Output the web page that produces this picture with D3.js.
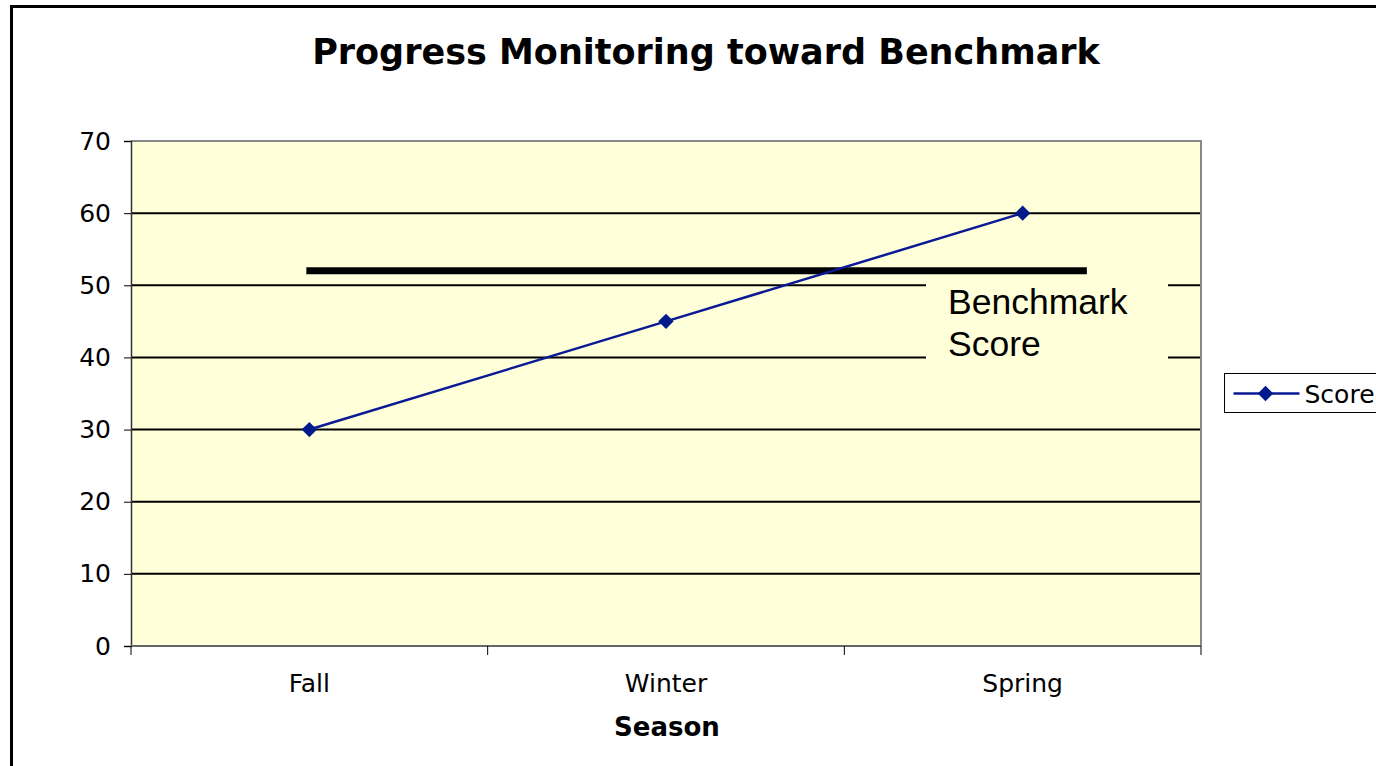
<!DOCTYPE html>
<html>
<head>
<meta charset="utf-8">
<script src="https://cdn.jsdelivr.net/npm/d3@7"></script>
<style>
  body { margin: 0; background: #fff; }
  svg { display: block; }
</style>
</head>
<body>
<script>
var seasons = ["Fall", "Winter", "Spring"];
var scores = [30, 45, 60];
var yTicks = [0, 10, 20, 30, 40, 50, 60, 70];
var benchmark = 52;
var benchmarkSpan = [0, 2.18]; // in category index units
var seriesName = "Score";

var width = 1376;
var height = 766;
var plot = { left: 131, top: 141, right: 1201, bottom: 646 };
var fontV = "DejaVu Sans, Verdana, sans-serif";

var svg = d3.select("body").append("svg").attr("width", width).attr("height", height);

// outer frame
svg.append("rect")
  .attr("x", 11.5).attr("y", 6.5)
  .attr("width", width + 20).attr("height", height + 20)
  .attr("fill", "#fff").attr("stroke", "#000").attr("stroke-width", 3);

var xScale = d3.scaleBand()
  .domain(seasons)
  .range([plot.left, plot.right]);

var xIdx = d3.scaleLinear()
  .domain([-0.5, seasons.length - 0.5])
  .range([plot.left, plot.right]);

var yScale = d3.scaleLinear()
  .domain([0, 70])
  .range([plot.bottom, plot.top]);

// plot background
svg.append("rect")
  .attr("x", plot.left).attr("y", plot.top)
  .attr("width", plot.right - plot.left).attr("height", plot.bottom - plot.top)
  .attr("fill", "#ffffd9");

// gridlines
svg.append("g")
  .selectAll("line")
  .data(yTicks.filter(function(d) { return d > 0 && d < 70; }))
  .enter()
  .append("line")
  .attr("x1", plot.left).attr("x2", plot.right)
  .attr("y1", function(d) { return yScale(d); })
  .attr("y2", function(d) { return yScale(d); })
  .attr("stroke", "#000").attr("stroke-width", 2);

// plot border (top/right gray)
svg.append("path")
  .attr("d", "M" + plot.left + "," + plot.top + "H" + plot.right + "V" + plot.bottom)
  .attr("fill", "none").attr("stroke", "#888").attr("stroke-width", 2);

// benchmark label box (hides gridlines behind it)
var boxX = 926, boxW = 242;
svg.append("rect")
  .attr("x", boxX).attr("y", yScale(50) - 6)
  .attr("width", boxW).attr("height", yScale(40) - yScale(50) + 12)
  .attr("fill", "#ffffd9");

var label = svg.append("text")
  .attr("font-family", "Liberation Sans, Arial, sans-serif")
  .attr("font-size", 35.5)
  .attr("fill", "#000");
label.append("tspan").attr("x", 948).attr("y", 314).text("Benchmark");
label.append("tspan").attr("x", 948).attr("y", 356).text("Score");

// benchmark line
svg.append("line")
  .attr("x1", xIdx(benchmarkSpan[0]) - 3)
  .attr("x2", xIdx(benchmarkSpan[1]))
  .attr("y1", yScale(benchmark)).attr("y2", yScale(benchmark))
  .attr("stroke", "#000").attr("stroke-width", 7);

// axes
var axisY = d3.axisLeft(yScale).tickValues(yTicks).tickSize(7).tickPadding(13);
var gy = svg.append("g")
  .attr("transform", "translate(" + plot.left + ",0)")
  .call(axisY);
gy.select(".domain").attr("stroke", "#333").attr("stroke-width", 1.5);
gy.selectAll("text")
  .attr("font-family", fontV)
  .attr("font-size", 25).attr("fill", "#000");

var gx = svg.append("g")
  .attr("transform", "translate(0," + plot.bottom + ")");
gx.append("line")
  .attr("x1", plot.left).attr("x2", plot.right)
  .attr("stroke", "#666").attr("stroke-width", 2);
gx.selectAll(".tick")
  .data(d3.range(seasons.length + 1))
  .enter()
  .append("line")
  .attr("x1", function(d) { return xIdx(d - 0.5); })
  .attr("x2", function(d) { return xIdx(d - 0.5); })
  .attr("y1", 0).attr("y2", 9)
  .attr("stroke", "#000").attr("stroke-width", 1);
gx.selectAll("text")
  .data(seasons)
  .enter()
  .append("text")
  .attr("x", function(d) { return xScale(d) + xScale.bandwidth() / 2; })
  .attr("y", 46)
  .attr("text-anchor", "middle")
  .attr("font-family", fontV)
  .attr("font-size", 25)
  .text(function(d) { return d; });

// series line
var line = d3.line()
  .x(function(d, i) { return xScale(seasons[i]) + xScale.bandwidth() / 2; })
  .y(function(d) { return yScale(d); });

svg.append("path")
  .datum(scores)
  .attr("d", line)
  .attr("fill", "none")
  .attr("stroke", "#0a1a96")
  .attr("stroke-width", 2.5);

var diamond = d3.symbol().type(d3.symbolDiamond2).size(150);
svg.append("g")
  .selectAll("path")
  .data(scores)
  .enter()
  .append("path")
  .attr("d", diamond)
  .attr("transform", function(d, i) {
    return "translate(" + (xScale(seasons[i]) + xScale.bandwidth() / 2) + "," + yScale(d) + ")";
  })
  .attr("fill", "#001a8c");

// titles
svg.append("text")
  .attr("x", 706).attr("y", 64)
  .attr("text-anchor", "middle")
  .attr("font-family", fontV)
  .attr("font-weight", "bold")
  .attr("font-size", 35)
  .text("Progress Monitoring toward Benchmark");

svg.append("text")
  .attr("x", 667).attr("y", 736)
  .attr("text-anchor", "middle")
  .attr("font-family", fontV)
  .attr("font-weight", "bold")
  .attr("font-size", 26)
  .text("Season");

// legend
var lg = svg.append("g").attr("transform", "translate(1224.5,373.5)");
lg.append("rect")
  .attr("width", 180).attr("height", 39)
  .attr("fill", "#fff").attr("stroke", "#000").attr("stroke-width", 1);
lg.append("line")
  .attr("x1", 9).attr("x2", 75).attr("y1", 20).attr("y2", 20)
  .attr("stroke", "#0a1a96").attr("stroke-width", 2.5);
lg.append("path")
  .attr("d", diamond)
  .attr("transform", "translate(41,20)")
  .attr("fill", "#001a8c");
lg.append("text")
  .attr("x", 80).attr("y", 29)
  .attr("font-family", fontV)
  .attr("font-size", 25)
  .text(seriesName);
</script>
</body>
</html>
